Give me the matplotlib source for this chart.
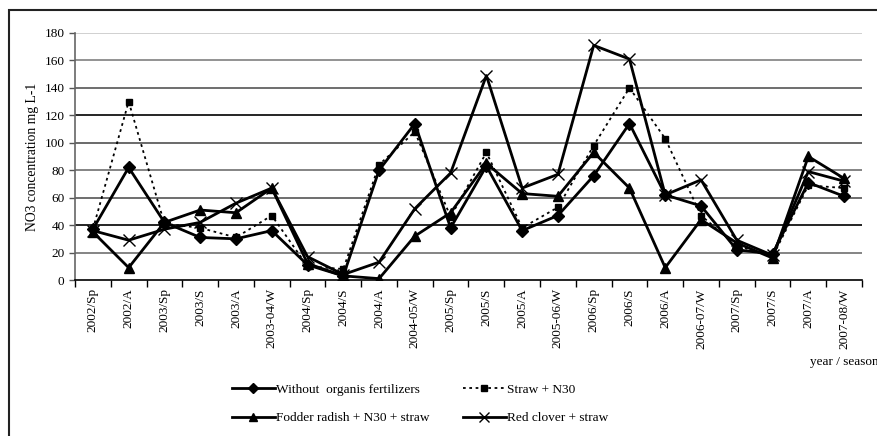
import numpy as np
import matplotlib.pyplot as plt
from matplotlib.patches import Rectangle

plt.rcParams['font.family'] = ['Liberation Serif', 'DejaVu Serif']

seasons = ["2002/Sp", "2002/A", "2003/Sp", "2003/S", "2003/A", "2003-04/W",
           "2004/Sp", "2004/S", "2004/A", "2004-05/W", "2005/Sp", "2005/S",
           "2005/A", "2005-06/W", "2006/Sp", "2006/S", "2006/A", "2006-07/W",
           "2007/Sp", "2007/S", "2007/A", "2007-08/W"]

without_org = [37, 82, 42, 31, 30, 36, 11, 3, 80, 114, 38, 83,
               36, 47, 76, 114, 62, 54, 22, 19, 71, 61]
straw_n30 = [37, 130, 41, 38, 31, 47, 10, 8, 84, 108, 46, 93,
             38, 53, 98, 140, 103, 47, 25, 17, 69, 67]
fodder = [35, 9, 42, 51, 49, 67, 12, 3, 1, 32, 49, 85,
          63, 61, 93, 67, 9, 44, 27, 16, 90, 74]
clover = [36, 29, 37, 42, 56, 67, 17, 4, 13, 52, 78, 149,
          67, 77, 171, 161, 62, 73, 29, 18, 79, 72]

fig = plt.figure(figsize=(8.78, 4.36), dpi=100)
ax = fig.add_axes([75/878, 1-280/436, 787/878, 247/436])

# outer frame of the scanned figure
fig.patches.append(Rectangle((9/878, -0.05), 1.0, 1-10/436+0.05, transform=fig.transFigure,
                             fill=False, edgecolor='#222222', linewidth=1.5))

x = np.arange(len(seasons))

# grid lines with uneven shades (scan)
grid_cols = {20: '#707070', 40: '#000000', 60: '#555555', 80: '#707070', 100: '#505050',
             120: '#000000', 140: '#555555', 160: '#808080', 180: '#c8c8c8'}
for yv, c in grid_cols.items():
    ax.axhline(yv, color=c, linewidth=1.2, zorder=0)

ax.plot(x, without_org, color='black', linewidth=2, marker='D', markersize=6,
        label='Without  organis fertilizers', zorder=3)
ax.plot(x, fodder, color='black', linewidth=2, marker='^', markersize=7,
        label='Fodder radish + N30 + straw', zorder=3)
ax.plot(x, straw_n30, color='black', linewidth=1.3, linestyle=(0, (1.5, 2)), marker='s',
        markersize=5, label='Straw + N30', zorder=4)
ax.plot(x, clover, color='black', linewidth=2, marker='x', markersize=9,
        markeredgewidth=1.0, label='Red clover + straw', zorder=3)

ax.set_xlim(-0.5, len(seasons) - 0.5)
ax.set_ylim(0, 180)
ax.set_yticks(np.arange(0, 181, 20))
ax.set_xticks(x)
ax.set_xticklabels(seasons, rotation=90, fontsize=9.5)
ax.set_xticks(np.arange(-0.5, len(seasons), 1), minor=True)
ax.tick_params(axis='x', which='major', length=0, pad=6)
ax.tick_params(axis='x', which='minor', length=5, direction='out', width=1)
ax.tick_params(axis='y', labelsize=9.5, length=4, width=1, color='#555555')

for s in ['top', 'right']:
    ax.spines[s].set_visible(False)
ax.spines['left'].set_color('#666666')
ax.spines['left'].set_linewidth(1.2)
ax.spines['bottom'].set_linewidth(1.2)

ax.set_ylabel('NO3 concentration mg L-1', fontsize=9.8)
ax.yaxis.set_label_coords(-0.046, 0.5)

fig.text(810/878, 1-362/436, 'year / season', fontsize=9.5, va='center', ha='left')

leg = fig.legend(loc='center left', bbox_to_anchor=(220/878, 1-404/436), ncol=2,
                 frameon=False, fontsize=9.6, handlelength=3.2, handletextpad=0.1,
                 columnspacing=2.5, labelspacing=1.2, markerscale=0.8)

plt.savefig('out.png', dpi=100)
